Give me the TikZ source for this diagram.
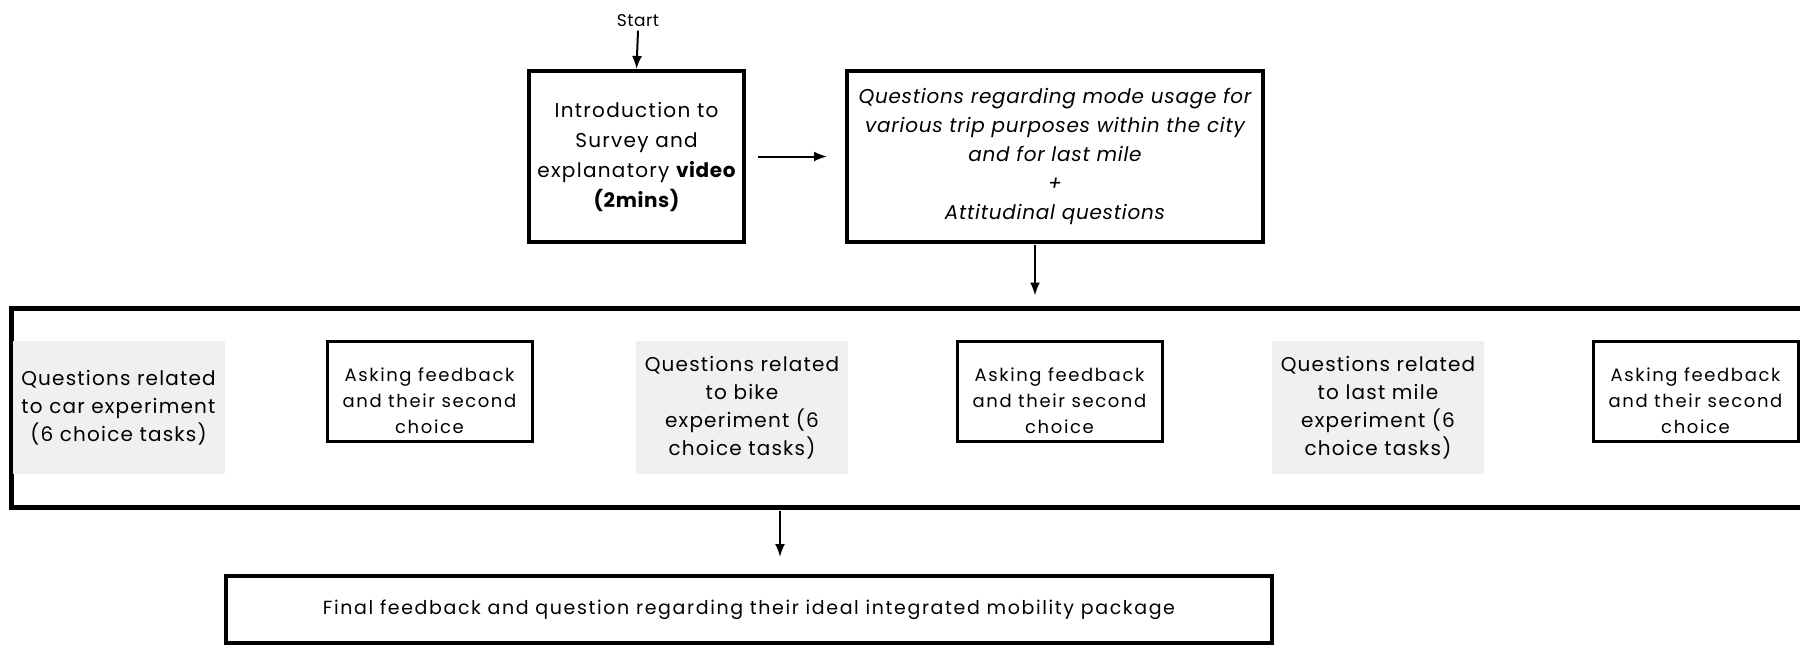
\documentclass[tikz,border=0pt]{standalone}
\usepackage{fontspec}
\setmainfont{Poppins}
\usetikzlibrary{arrows.meta,calc}

% font size, leading and extra tracking in one go
\newcommand{\boxfont}[3]{\fontsize{#1}{#2}\selectfont\addfontfeatures{LetterSpace=#3}}

\tikzset{
  mainbox/.style={draw=black, line width=4pt, fill=white, align=center, inner sep=0pt},
  greybox/.style={fill=black!6, draw=none, align=center, inner sep=0pt,
    minimum width=212pt, minimum height=133pt, font=\boxfont{20}{28}{6}},
  askbox/.style={draw=black, line width=3pt, fill=white, inner sep=0pt,
    minimum width=205pt, minimum height=100pt},
  asktext/.style={align=center, font=\boxfont{18}{26}{9}},
  arr/.style={line width=2pt, -{Latex[length=13pt,width=10pt]}},
}

\begin{document}
\begin{tikzpicture}[x=1pt,y=-1pt]
\useasboundingbox (0,0) rectangle (1800,645);
\fill[white] (0,0) rectangle (1800,645);
\clip (0,0) rectangle (1800,645);

% opening part
\node[font=\boxfont{17}{20}{3}] (start) at (638,21) {Start};
\node[mainbox, minimum width=215pt, minimum height=171pt,
      font=\boxfont{20}{30}{6.5}] (intro) at (636.5,156.5)
  {Introduction to\\Survey and\\explanatory {\bfseries\addfontfeatures{LetterSpace=3}video}\\{\bfseries\addfontfeatures{LetterSpace=3}(2mins)}};
\node[mainbox, minimum width=416pt, minimum height=171pt,
      font=\fontsize{20}{29}\selectfont\itshape\addfontfeatures{LetterSpace=3.7}] (quest) at (1055,156.5)
  {Questions regarding mode usage for\\various trip purposes within the city\\and for last mile\\+\\Attitudinal questions};

% experiment block
\node[draw=black, line width=5pt, fill=white, minimum width=1810pt, minimum height=199pt,
      inner sep=0pt] (exp) at (916,407.5) {};

\node[greybox] (g1) at (118.5,407.5) {Questions related\\to car experiment\\(6 choice tasks)};
\node[askbox] (a1) at (429.5,391) {};
\node[asktext] (t1) at ($(a1.center)+(0,10)$) {Asking feedback\\and their second\\choice};
\node[greybox] (g2) at (742,407.5) {Questions related\\to bike\\experiment (6\\choice tasks)};
\node[askbox] (a2) at (1059.5,391) {};
\node[asktext] (t2) at ($(a2.center)+(0,10)$) {Asking feedback\\and their second\\choice};
\node[greybox] (g3) at (1378,407.5) {Questions related\\to last mile\\experiment (6\\choice tasks)};
\node[askbox] (a3) at (1695.5,391) {};
\node[asktext] (t3) at ($(a3.center)+(0,10)$) {Asking feedback\\and their second\\choice};

% closing part
\node[mainbox, minimum width=1046pt, minimum height=67pt,
      font=\boxfont{19}{24}{8.5}] (final) at (749,609.5)
  {Final feedback and question regarding their ideal integrated mobility package};

% connectors
\draw[arr] (start.south) -- (intro.north);
\draw[arr, shorten <=12pt, shorten >=18pt] (intro.east) -- (intro.east -| quest.west);
\draw[arr, shorten <=1pt, shorten >=10pt] ([xshift=-20pt]quest.south) -- ([xshift=-20pt]quest.south |- exp.north);
\draw[arr, shorten <=1pt, shorten >=17pt] ([xshift=31pt]final.north |- exp.south) -- ([xshift=31pt]final.north);
\end{tikzpicture}
\end{document}
